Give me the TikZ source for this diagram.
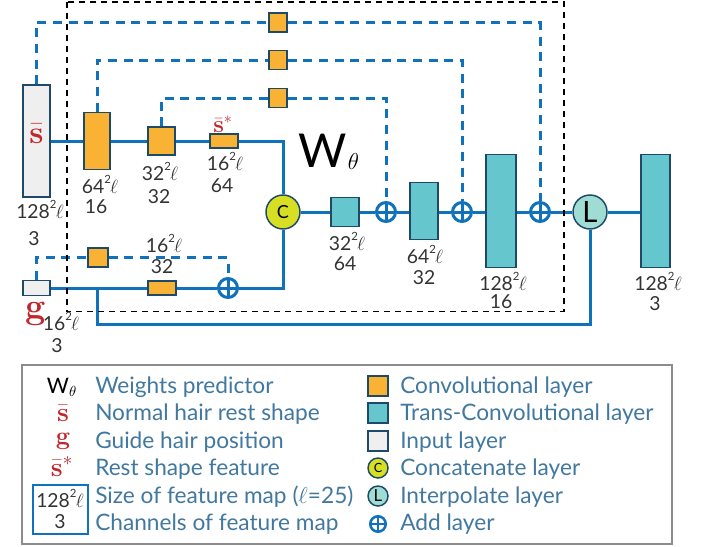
\documentclass[tikz,border=0pt]{standalone}
\usepackage{fontspec}
\newfontfamily\lab{Lato}
\usetikzlibrary{backgrounds}
\definecolor{cblue}{HTML}{1072BA}
\definecolor{corange}{HTML}{F9B234}
\definecolor{cteal}{HTML}{66C6CE}
\definecolor{cborder}{HTML}{1E4A6A}
\definecolor{cinput}{HTML}{EFEFEF}
\definecolor{cyel}{HTML}{D6DF23}
\definecolor{cmint}{HTML}{9EDCD4}
\definecolor{cred}{HTML}{C1272D}
\definecolor{cgrey}{HTML}{333333}
\definecolor{ctext}{HTML}{4178A0}
\definecolor{lgray}{HTML}{8C8C8C}
\newcommand\sz[1]{#1\raisebox{0.5em}{\fontsize{8.5}{8.5}\selectfont 2}\kern-0.5pt$\ell$}
\newcommand\sbar{$\bar{\textbf{s}}$}
\begin{document}
\begin{tikzpicture}[x=0.75pt,y=-0.75pt,
  wh/.style 2 args={minimum width=#1*0.75pt,minimum height=#2*0.75pt},
  bl/.style={draw=cblue,line width=2.25pt},
  bd/.style={bl,dash pattern=on 6.75pt off 5pt},
  box/.style={rectangle,draw=cborder,line width=1.1pt,inner sep=0pt},
  conv/.style={box,fill=corange},
  tconv/.style={box,fill=cteal},
  inp/.style={box,fill=cinput},
  addn/.style={circle,draw=cblue,fill=white,line width=2.25pt,minimum size=14.25pt,inner sep=0pt,
    path picture={\draw[cblue,line width=2.25pt] (path picture bounding box.north)--(path picture bounding box.south)
      (path picture bounding box.west)--(path picture bounding box.east);}},
  addsmall/.style={addn,minimum size=11.6pt,line width=1.9pt,
    path picture={\draw[cblue,line width=1.9pt] (path picture bounding box.north)--(path picture bounding box.south)
      (path picture bounding box.west)--(path picture bounding box.east);}},
  cc/.style={circle,draw=cborder,line width=1.1pt,fill=cyel,minimum size=25.5pt,inner sep=0pt,font=\lab\fontsize{13.5}{13.5}\selectfont},
  lc/.style={circle,draw=cborder,line width=1.1pt,fill=cmint,minimum size=25.5pt,inner sep=0pt,font=\lab\fontsize{22}{22}\selectfont},
  lbl/.style={font=\lab\fontsize{14.5}{15}\selectfont,text=cgrey,inner sep=0pt,anchor=base},
  ltxt/.style={font=\lab\fontsize{17}{17}\selectfont,text=ctext,inner sep=0pt,anchor=base west},
  redsym/.style={text=cred,inner sep=0pt,anchor=base},
]
\useasboundingbox (0,0) rectangle (706,546);
% ---------- layers (nodes)
\node[inp,wh={27}{112}] (sbar) at (36.5,141) {};
\node[conv,wh={26}{57}] (c64) at (97,141) {};
\node[conv,wh={27}{28}] (c32) at (161.5,141) {};
\node[conv,wh={28}{14}] (c16) at (224,141) {};
\node[conv,wh={18}{19}] (k1) at (278,22.5) {};
\node[conv,wh={18}{19}] (k2) at (278,60) {};
\node[conv,wh={18}{19}] (k3) at (278,98) {};
\node[cc] (C) at (283,212) {C};
\node[tconv,wh={28}{29}] (t32) at (345,212) {};
\node[addn] (a1) at (386,212) {};
\node[tconv,wh={28}{57}] (t64) at (424,211) {};
\node[addn] (a2) at (462,212) {};
\node[tconv,wh={30}{113}] (t128) at (501,211) {};
\node[addn] (a3) at (540,212) {};
\node[lc] (L) at (590,212) {L};
\node[tconv,wh={29}{113}] (out) at (655.5,211) {};
\node[inp,wh={27}{15}] (g) at (36.5,288) {};
\node[conv,wh={20}{19}] (gk) at (98,257.5) {};
\node[conv,wh={28}{14}] (gc) at (162,288) {};
\node[addn] (ga) at (228,288) {};
\coordinate (br) at (97,288);
\coordinate (brd) at (97,324);
% ---------- connectors
\begin{scope}[on background layer]
\draw[bd] (sbar.north) |- (k1) -| (a3);
\draw[bd] (c64.north) |- (k2) -| (a2);
\draw[bd] (c32.north) |- (k3) -| (a1);
\draw[bd] (g.north) |- (gk) -| (ga);
\draw[bl] (sbar) -- (c64) -- (c32) -- (c16) -| (C);
\draw[bl] (C) -- (t32) -- (a1) -- (a1 -| t64.west);
\draw[bl] (a1 -| t64.east) -- (a2) -- (a2 -| t128.west);
\draw[bl] (a2 -| t128.east) -- (a3) -- (L) -- (L -| out.west);
\draw[bl] (g) -- (gc) -- (ga) -| (C);
\draw[bl] (br) -- (brd) -| (L);
\draw[black,line width=1pt,dash pattern=on 4.5pt off 3.75pt] (67,2) rectangle (564,311.7);
\end{scope}
% ---------- labels
\node[lbl] (n1a) at (40,218) {\sz{128}};
\node[lbl] (n1b) at (34,245) {3};
\node[lbl] (n2a) at (100,193) {\sz{64}};
\node[lbl] (n2b) at (96,213) {16};
\node[lbl] (n3a) at (160,180) {\sz{32}};
\node[lbl] (n3b) at (159,203) {32};
\node[lbl] (n4a) at (225,170) {\sz{16}};
\node[lbl] (n4b) at (222,192) {64};
\node[lbl] (n5a) at (347,250) {\sz{32}};
\node[lbl] (n5b) at (345,270) {64};
\node[lbl] (n6a) at (425,263) {\sz{64}};
\node[lbl] (n6b) at (424,284) {32};
\node[lbl] (n7a) at (503,290) {\sz{128}};
\node[lbl] (n7b) at (501,308) {16};
\node[lbl] (n8a) at (658,290) {\sz{128}};
\node[lbl] (n8b) at (655,310) {3};
\node[lbl] (n9a) at (164,252) {\sz{16}};
\node[lbl] (n9b) at (162,273) {32};
\node[lbl] (n10a) at (61,330) {\sz{16}};
\node[lbl] (n10b) at (57,352) {3};
\node[redsym,font=\fontsize{24}{24}\selectfont] (ssym) at (36.5,143) {\sbar};
\node[redsym,font=\fontsize{18}{18}\selectfont] (sstar) at (223,132) {\sbar$^*$};
\node[redsym,font=\fontsize{27}{27}\selectfont] (gsym) at (36,318) {\textbf{g}};
\node[anchor=base west,inner sep=0pt] (W) at (298,167)
  {\lab\fontsize{35}{35}\selectfont W\hspace{1pt}\raisebox{-2pt}{\fontsize{17}{17}\selectfont$\theta$}};
% ---------- legend
\draw[lgray,line width=1.1pt] (22,365) rectangle (672,544);
\node[anchor=base,inner sep=0pt,font=\lab\fontsize{16}{16}\selectfont] (lw) at (62,393) {W$_\theta$};
\node[redsym,font=\fontsize{20}{20}\selectfont] (ls) at (63,421) {\sbar};
\node[redsym,font=\fontsize{19}{19}\selectfont] (lg) at (63,444) {\textbf{g}};
\node[redsym,font=\fontsize{20}{20}\selectfont] (lss) at (62,476) {\sbar$^*$};
\node[rectangle,draw=cblue,line width=0.8pt,wh={55}{49},inner sep=0pt] (lbox) at (60.5,509.5) {};
\node[lbl] (lba) at (60,507) {\sz{128}};
\node[lbl] (lbb) at (60,528) {3};
\node[ltxt] (t1) at (95,393) {Weights predictor};
\node[ltxt] (t2) at (95,420.5) {Normal hair rest shape};
\node[ltxt] (t3) at (95,448) {Guide hair position};
\node[ltxt] (t4) at (95,475.5) {Rest shape feature};
\node[ltxt] (t5) at (95,503) {Size of feature map ($\ell$=25)};
\node[ltxt] (t6) at (95,530) {Channels of feature map};
\node[conv,wh={20}{20}] (q1) at (378,386) {};
\node[tconv,wh={20}{20}] (q2) at (378,413) {};
\node[inp,wh={20}{20}] (q3) at (378,441) {};
\node[cc,minimum size=15pt,font=\lab\fontsize{9.5}{9.5}\selectfont] (q4) at (378,468) {C};
\node[lc,minimum size=15pt,font=\lab\fontsize{12.5}{12.5}\selectfont] (q5) at (378,496) {L};
\node[addsmall] (q6) at (378,524) {};
\node[ltxt] (r1) at (400,393) {Convolutional layer};
\node[ltxt] (r2) at (400,420.5) {Trans-Convolutional layer};
\node[ltxt] (r3) at (400,448) {Input layer};
\node[ltxt] (r4) at (400,475.5) {Concatenate layer};
\node[ltxt] (r5) at (400,503) {Interpolate layer};
\node[ltxt] (r6) at (400,530) {Add layer};
\end{tikzpicture}
\end{document}
